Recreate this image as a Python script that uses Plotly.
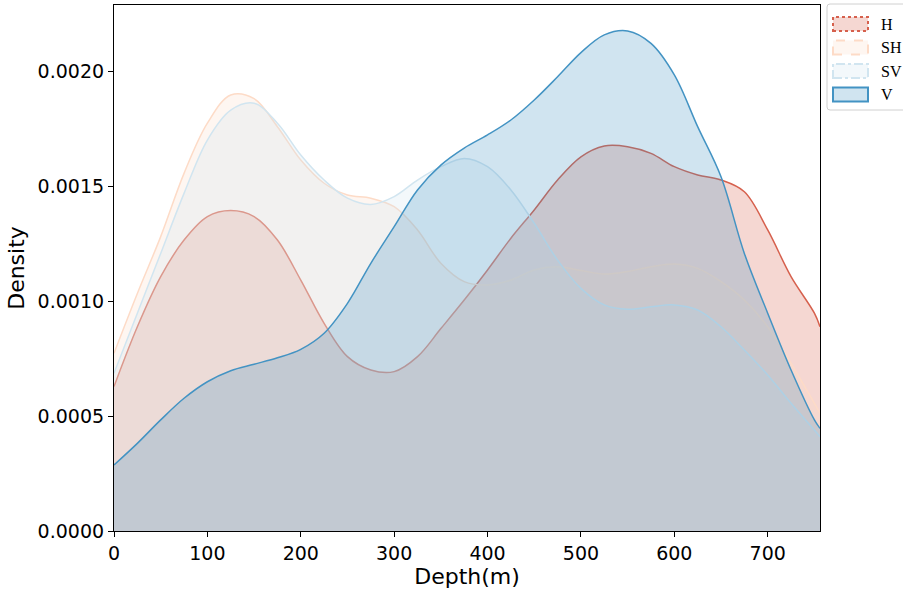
import plotly.graph_objects as go

depth = [0, 25, 50, 75, 100, 125, 150, 175, 200, 225, 250, 275, 300, 325, 350, 375,
         400, 425, 450, 475, 500, 525, 550, 575, 600, 625, 650, 675, 700, 725, 750, 756]

H = [0.000628, 0.000888, 0.001106, 0.001265, 0.001367, 0.001393, 0.001367, 0.001265,
     0.001091, 0.000903, 0.000758, 0.000700, 0.000693, 0.000758, 0.000880, 0.001004,
     0.001135, 0.001273, 0.001396, 0.001526, 0.001627, 0.001674, 0.001671, 0.001642,
     0.001584, 0.001548, 0.001526, 0.001475, 0.001309, 0.001106, 0.000947, 0.000888]

SH = [0.000773, 0.001033, 0.001280, 0.001555, 0.001773, 0.001896, 0.001880, 0.001758,
      0.001613, 0.001512, 0.001461, 0.001447, 0.001410, 0.001309, 0.001164, 0.001084,
      0.001070, 0.001091, 0.001135, 0.001149, 0.001133, 0.001117, 0.001128, 0.001149,
      0.001161, 0.001142, 0.001084, 0.001004, 0.000888, 0.000729, 0.000555, 0.000512]

SV = [0.000686, 0.000947, 0.001207, 0.001468, 0.001700, 0.001830, 0.001860, 0.001773,
      0.001635, 0.001526, 0.001447, 0.001420, 0.001454, 0.001526, 0.001584, 0.001620,
      0.001584, 0.001483, 0.001338, 0.001178, 0.001055, 0.000983, 0.000964, 0.000975,
      0.000983, 0.000961, 0.000888, 0.000787, 0.000678, 0.000555, 0.000439, 0.000410]

V = [0.000287, 0.000381, 0.000483, 0.000577, 0.000649, 0.000697, 0.000725, 0.000753,
     0.000790, 0.000860, 0.000990, 0.001164, 0.001323, 0.001483, 0.001591, 0.001665,
     0.001722, 0.001787, 0.001874, 0.001975, 0.002080, 0.002157, 0.002174, 0.002120,
     0.001983, 0.001758, 0.001540, 0.001207, 0.000947, 0.000700, 0.000483, 0.000446]

names = ["H", "SH", "SV", "V"]
series = [H, SH, SV, V]
colors = ["#d6604d", "#fddbc7", "#d1e5f0", "#4393c3"]
legend_dash = ["dot", "dash", "dashdot", "solid"]
x_ticks = [0, 100, 200, 300, 400, 500, 600, 700]
y_ticks = [0.0, 0.0005, 0.0010, 0.0015, 0.0020]


def rgba(hexc, a):
    h = hexc.lstrip("#")
    r, g, b = int(h[0:2], 16), int(h[2:4], 16), int(h[4:6], 16)
    return f"rgba({r},{g},{b},{a})"


fig = go.Figure()
for name, ys, c in zip(names, series, colors):
    fig.add_trace(go.Scatter(
        x=depth, y=ys, name=name, mode="lines",
        line=dict(color=c, width=1.5, shape="spline", smoothing=1.0),
        fill="tozeroy", fillcolor=rgba(c, 0.25), showlegend=False,
    ))

# legend drawn manually (matplotlib-style patches)
ph = 526.0
pw = 706.0


def px_x(p):
    return (p - 114) / pw


def px_y(p):
    return 1 - (p - 5) / ph


shapes = []
annotations = []
L, R, T, B, r = 827, 910, 4, 110, 3
box = (f"M {px_x(L + r)},{px_y(T)} L {px_x(R)},{px_y(T)} L {px_x(R)},{px_y(B)} "
       f"L {px_x(L + r)},{px_y(B)} Q {px_x(L)},{px_y(B)} {px_x(L)},{px_y(B - r)} "
       f"L {px_x(L)},{px_y(T + r)} Q {px_x(L)},{px_y(T)} {px_x(L + r)},{px_y(T)} Z")
shapes.append(dict(type="path", xref="paper", yref="paper", path=box,
                   line=dict(color="#d0d0d0", width=1), fillcolor="white", layer="above"))
for i, (name, c, d) in enumerate(zip(names, colors, legend_dash)):
    top_px = 17 + i * 23.5
    y0 = px_y(top_px + 14)
    y1 = px_y(top_px)
    shapes.append(dict(type="rect", xref="paper", yref="paper", x0=px_x(833), x1=px_x(868),
                       y0=y0, y1=y1, line=dict(color=c, width=2, dash=d),
                       fillcolor=rgba(c, 0.25), layer="above"))
    annotations.append(dict(xref="paper", yref="paper", x=px_x(879), y=(y0 + y1) / 2,
                            text=name, showarrow=False, xanchor="left", yanchor="middle",
                            font=dict(family="Liberation Serif", size=16, color="black")))

fig.update_layout(
    width=903, height=590,
    margin=dict(l=114, r=83, t=5, b=59),
    plot_bgcolor="white", paper_bgcolor="white",
    showlegend=False,
    shapes=shapes, annotations=annotations,
    font=dict(family="DejaVu Sans", color="black"),
)
fig.update_xaxes(range=[0, 756], tickvals=x_ticks, ticks="outside", ticklen=5, tickwidth=1,
                 tickcolor="black", showline=True, linecolor="black", linewidth=1.2, mirror=True,
                 showgrid=False, zeroline=False, tickfont=dict(size=19),
                 title=dict(text="Depth(m)", font=dict(size=22), standoff=4))
fig.update_yaxes(range=[0, 0.002287], tickvals=y_ticks, tickformat=".4f", ticks="outside",
                 ticklen=5, tickwidth=1, tickcolor="black", showline=True, linecolor="black",
                 linewidth=1.2, mirror=True, showgrid=False, zeroline=False,
                 tickfont=dict(size=19),
                 title=dict(text="Density", font=dict(size=22), standoff=6))

fig.write_html("out.html")
